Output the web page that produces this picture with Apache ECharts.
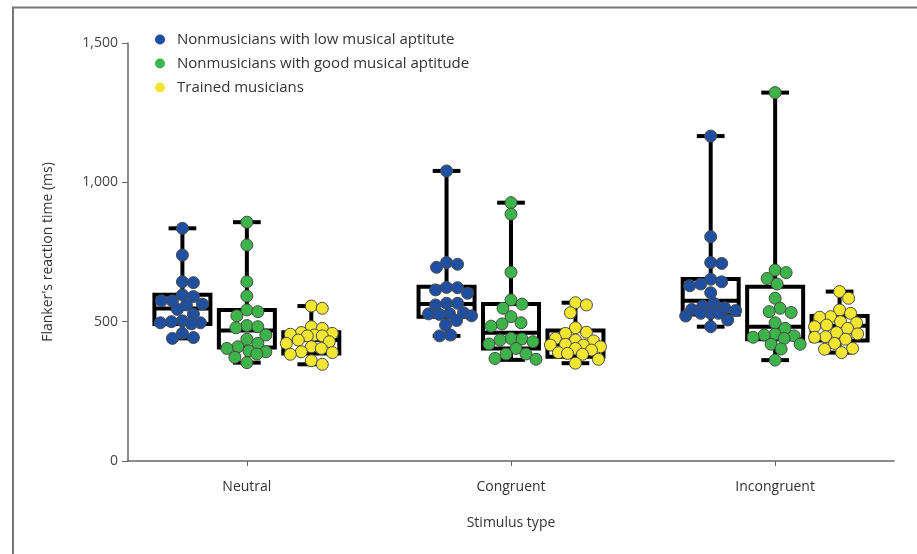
<!DOCTYPE html>
<html>
<head>
<meta charset="utf-8">
<script src="https://cdn.jsdelivr.net/npm/echarts@6/dist/echarts.min.js"></script>
<style>
  html, body { margin: 0; padding: 0; background: #fff; }
  #flanker_chart { width: 917px; height: 554px; }
</style>
</head>
<body>
<div id="flanker_chart"></div>
<script>
// 刺激类型
const categories = ['Neutral', 'Congruent', 'Incongruent'];
const groupNames = [
  'Nonmusicians with low musical aptitute',
  'Nonmusicians with good musical aptitude',
  'Trained musicians'
];
const yTicks = [0, 500, 1000, 1500];

// reaction times (ms), one array per group & stimulus type
const lowNeutral = [835, 739, 640, 643, 596, 590, 575, 563, 560, 575, 544, 527, 500, 496, 492, 496, 503, 458, 440, 443];
const lowCongruent = [1041, 712, 695, 706, 622, 614, 623, 602, 566, 560, 566, 532, 528, 521, 526, 528, 504, 488, 449, 452];
const lowIncongruent = [1166, 805, 709, 712, 652, 643, 635, 629, 604, 556, 544, 530, 530, 530, 550, 566, 520, 506, 482, 540];

const goodNeutral = [857, 775, 643, 592, 536, 521, 542, 482, 478, 486, 437, 452, 422, 410, 404, 392, 384, 372, 353, 395];
const goodCongruent = [927, 886, 677, 563, 548, 578, 518, 496, 484, 492, 438, 428, 420, 434, 440, 404, 384, 365, 368, 384];
const goodIncongruent = [1322, 685, 676, 655, 635, 584, 548, 536, 533, 496, 476, 449, 444, 440, 452, 455, 419, 419, 402, 362];

const trainedNeutral = [556, 548, 476, 482, 458, 449, 452, 449, 455, 461, 434, 428, 422, 404, 410, 392, 389, 383, 360, 347];
const trainedCongruent = [560, 568, 532, 478, 462, 458, 440, 416, 431, 434, 410, 419, 416, 404, 398, 389, 383, 386, 351, 365];
const trainedIncongruent = [608, 584, 542, 530, 516, 518, 496, 500, 482, 488, 476, 456, 444, 437, 446, 461, 422, 404, 389, 401];

// box stats: [min, Q1, median, Q3, max]
const lowBoxes = [[440, 492, 547, 597, 835], [449, 518, 563, 625, 1041], [482, 526, 575, 653, 1166]];
const goodBoxes = [[353, 407, 468, 542, 857], [363, 404, 460, 563, 927], [362, 437, 482, 625, 1322]];
const trainedBoxes = [[347, 386, 434, 462, 556], [351, 374, 419, 468, 568], [389, 432, 485, 520, 608]];

const colors = ['#1f4fa0', '#3db44a', '#f2e630'];
const groupOffset = [-0.244, 0, 0.244];
const BOX_W = 0.212;
const CAP_W = 0.105;

const groupValues = [
  [lowNeutral, lowCongruent, lowIncongruent],
  [goodNeutral, goodCongruent, goodIncongruent],
  [trainedNeutral, trainedCongruent, trainedIncongruent]
];
const groupBoxes = [lowBoxes, goodBoxes, trainedBoxes];

const font = "'Open Sans', 'DejaVu Sans', sans-serif";

var myChart = echarts.init(document.getElementById('flanker_chart'), null, { renderer: 'canvas' });

// box + whiskers drawn with custom series
function renderBox(params, api) {
  const x = api.value(0);
  const pMin = api.coord([x, api.value(1)]);
  const pQ1 = api.coord([x, api.value(2)]);
  const pMed = api.coord([x, api.value(3)]);
  const pQ3 = api.coord([x, api.value(4)]);
  const pMax = api.coord([x, api.value(5)]);
  const halfW = api.size([BOX_W, 0])[0] / 2;
  const halfCap = api.size([CAP_W, 0])[0] / 2;
  const cx = pMin[0];
  const ls = { stroke: '#000', lineWidth: 4, fill: null };
  return {
    type: 'group',
    children: [
      { type: 'line', shape: { x1: cx, y1: pMax[1], x2: cx, y2: pQ3[1] }, style: ls },
      { type: 'line', shape: { x1: cx, y1: pQ1[1], x2: cx, y2: pMin[1] }, style: ls },
      { type: 'line', shape: { x1: cx - halfCap, y1: pMax[1], x2: cx + halfCap, y2: pMax[1] }, style: ls },
      { type: 'line', shape: { x1: cx - halfCap, y1: pMin[1], x2: cx + halfCap, y2: pMin[1] }, style: ls },
      { type: 'rect', shape: { x: cx - halfW, y: pQ3[1], width: halfW * 2, height: pQ1[1] - pQ3[1] }, style: ls },
      { type: 'line', shape: { x1: cx - halfW, y1: pMed[1], x2: cx + halfW, y2: pMed[1] }, style: ls }
    ]
  };
}

const boxData = [];
groupBoxes.forEach((boxes, g) => {
  boxes.forEach((b, c) => {
    boxData.push([c + 1 + groupOffset[g]].concat(b));
  });
});

const scatterSeries = groupNames.map((name, g) => ({
  name: name,
  type: 'scatter',
  z: 5,
  symbolSize: 12,
  itemStyle: { color: colors[g], borderColor: '#4a4a4a', borderWidth: 1, opacity: 1 },
  data: []
}));

myChart.setOption({
  animation: false,
  textStyle: { fontFamily: font },
  graphic: [{
    type: 'polyline',
    shape: { points: [[13, 554], [13, 7.5], [917, 7.5]] },
    style: { stroke: '#777', lineWidth: 2, fill: null }
  }],
  legend: {
    orient: 'vertical',
    left: 150,
    top: 27,
    itemWidth: 10,
    itemHeight: 10,
    itemGap: 9,
    icon: 'circle',
    textStyle: { fontFamily: font, fontSize: 15, color: '#333', padding: [0, 0, 0, 7] },
    data: groupNames.map((n, g) => ({ name: n, itemStyle: { color: colors[g], borderWidth: 0 } }))
  },
  grid: { left: 128, right: 23, top: 43, bottom: 93 },
  xAxis: {
    type: 'value',
    min: 0.55,
    max: 3.45,
    name: 'Stimulus type',
    nameLocation: 'middle',
    nameGap: 55,
    nameTextStyle: { fontFamily: font, fontSize: 14, color: '#333' },
    splitLine: { show: false },
    axisLine: { lineStyle: { color: '#666', width: 1.5 } },
    axisTick: { show: true, length: 5, customValues: [1, 2, 3], lineStyle: { color: '#666' } },
    axisLabel: {
      customValues: [1, 2, 3],
      margin: 19,
      fontSize: 14,
      color: '#333',
      formatter: v => categories[Math.round(v) - 1] || ''
    }
  },
  yAxis: {
    type: 'value',
    min: 0,
    max: 1500,
    interval: 500,
    name: "Flanker's reaction time (ms)",
    nameLocation: 'middle',
    nameGap: 73,
    nameTextStyle: { fontFamily: font, fontSize: 14, color: '#333' },
    splitLine: { show: false },
    axisLine: { show: true, lineStyle: { color: '#666', width: 1.5 } },
    axisTick: { show: true, length: 6, lineStyle: { color: '#666' } },
    axisLabel: {
      margin: 10,
      fontSize: 14,
      color: '#444',
      formatter: v => yTicks.includes(v) ? v.toLocaleString('en-US') : ''
    }
  },
  series: [{
    type: 'custom',
    name: 'boxes',
    z: 2,
    renderItem: renderBox,
    encode: { x: 0, y: [1, 2, 3, 4, 5] },
    data: boxData
  }].concat(scatterSeries)
});

// 点的横向散开（beeswarm），限制在箱体宽度内，挤不下时允许少量重叠
const D = 11;
const MAX_OFF = 25;
function swarm(values, center) {
  const cx = myChart.convertToPixel({ gridIndex: 0 }, [center, 0])[0];
  const placed = [];
  const out = [];
  values.slice().sort((a, b) => b - a).forEach(v => {
    const py = myChart.convertToPixel({ gridIndex: 0 }, [center, v])[1];
    let best = 0, bestGap = -1;
    for (let o = 0; o <= MAX_OFF; o += 1) {
      for (const c of (o === 0 ? [0] : [o, -o])) {
        let gap = Infinity;
        placed.forEach(p => { gap = Math.min(gap, Math.hypot(p[0] - (cx + c), p[1] - py)); });
        if (gap >= D) { best = c; bestGap = Infinity; break; }
        if (gap > bestGap + 0.5) { bestGap = gap; best = c; }
      }
      if (bestGap === Infinity) break;
    }
    placed.push([cx + best, py]);
    const xv = myChart.convertFromPixel({ gridIndex: 0 }, [cx + best, py])[0];
    out.push([xv, v]);
  });
  return out;
}

myChart.setOption({
  series: [{}].concat(groupValues.map((conds, g) => {
    let pts = [];
    conds.forEach((vals, c) => { pts = pts.concat(swarm(vals, c + 1 + groupOffset[g])); });
    return { name: groupNames[g], data: pts };
  }))
});
</script>
</body>
</html>
